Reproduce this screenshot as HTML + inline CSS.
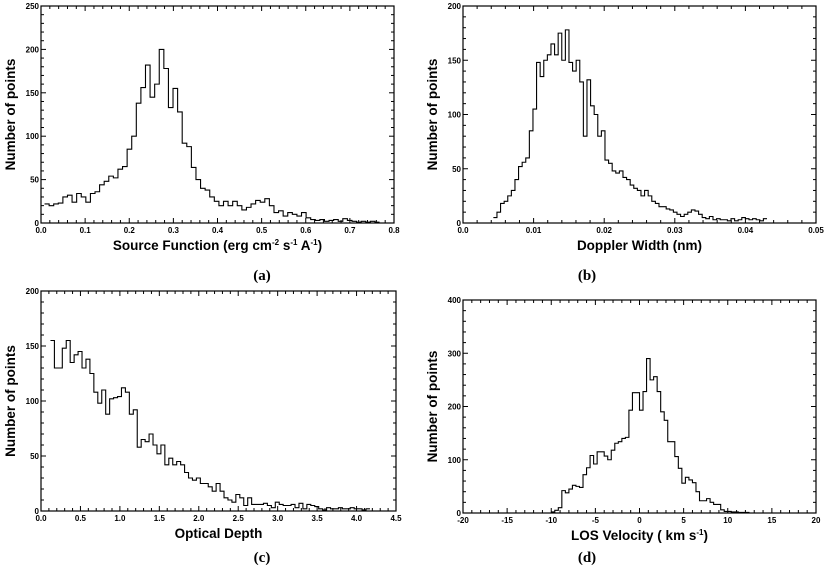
<!DOCTYPE html>
<html><head><meta charset="utf-8"><style>
html,body{margin:0;padding:0;background:#fff;}
svg{display:block;}
.tick{font:bold 8px "Liberation Sans",sans-serif;fill:#000;}
.atitle{font:bold 13.5px "Liberation Sans",sans-serif;fill:#000;}
.plabel{font:bold 15px "Liberation Serif",serif;fill:#000;}
</style></head><body>
<svg id="fig" width="826" height="569" viewBox="0 0 826 569"></svg>
<script>
// Panel (a): Source Function
const aStart = 0.008, aWidth = 0.0104;
const aCounts = [22,20,22,23,30,32,24,34,30,24,34,36,44,48,54,52,62,65,85,100,138,156,182,145,160,200,178,133,155,128,92,88,64,50,40,38,30,25,20,25,20,25,20,15,18,22,26,24,28,20,12,14,8,12,10,8,12,6,4,3,4,2,3,4,2,5,3,2,1,2,1,2,1];
const aXTicks = ["0.0","0.1","0.2","0.3","0.4","0.5","0.6","0.7","0.8"];
const aYTicks = [0,50,100,150,200,250];
// Panel (b): Doppler Width
const bStart = 0.0043, bWidth = 0.00051;
const bCounts = [5,10,18,20,25,30,40,52,56,60,85,105,148,135,150,155,165,155,175,150,178,148,140,150,130,80,132,108,100,80,85,58,55,48,46,48,42,40,35,32,30,25,30,25,20,18,15,15,13,12,10,8,6,8,10,12,11,8,5,4,6,3,4,3,3,2,4,2,3,5,4,3,4,3,2,4];
const bXTicks = ["0.0","0.01","0.02","0.03","0.04","0.05"];
const bYTicks = [0,50,100,150,200];
// Panel (c): Optical Depth
const cStart = 0.12, cWidth = 0.05;
const cCounts = [155,130,130,148,155,135,142,145,130,138,125,108,98,110,88,102,103,104,112,108,88,92,58,65,63,70,60,52,60,42,48,42,45,42,35,30,28,30,25,25,22,18,25,18,12,10,8,15,12,5,12,6,6,6,7,5,3,8,6,5,5,6,3,7,2,6,5,4,2,1,3,2,2,3,2,2,3,2,2,1,2];
const cXTicks = ["0.0","0.5","1.0","1.5","2.0","2.5","3.0","3.5","4.0","4.5"];
const cYTicks = [0,50,100,150,200];
// Panel (d): LOS Velocity
const dStart = -10, dWidth = 0.4;
const dCounts = [2,5,10,42,38,45,52,50,48,72,85,108,92,115,115,107,100,118,131,134,140,142,193,226,226,193,228,290,250,256,228,190,174,134,134,106,84,56,67,62,57,40,23,23,27,20,16,16,6,3,3,2,2,1,1,1,0];
const dXTicks = ["-20","-15","-10","-5","0","5","10","15","20"];
const dYTicks = [0,100,200,300,400];

const NS = "http://www.w3.org/2000/svg";
const svg = document.getElementById('fig');
function mk(tag, attrs, parent){
  const e = document.createElementNS(NS, tag);
  for (const k in attrs) e.setAttribute(k, attrs[k]);
  (parent||svg).appendChild(e);
  return e;
}
function panel(id, box, xmin, xmax, ymax, xTicks, yTicks, xMinor, yMinor, start, width, counts, xtitle, label, labelX, labelY){
  const g = mk('g', {});
  
  
  const L=box[0], R=box[1], T=box[2], B=box[3];
  const sx = v => L + (v - xmin) / (xmax - xmin) * (R - L);
  const sy = v => B - v / ymax * (B - T);
  const frame = mk('rect', {x:L, y:T, width:R-L, height:B-T, fill:'none', stroke:'#000', 'stroke-width':1.2}, g);
  
  
  const nx = xTicks.length - 1;
  for (let i = 0; i <= nx * xMinor; i++) {
    const x = L + i / (nx * xMinor) * (R - L);
    const len = (i % xMinor === 0) ? 5 : 3;
    mk('line', {x1:x, x2:x, y1:B, y2:B-len, stroke:'#000', 'stroke-width':1}, g);
    mk('line', {x1:x, x2:x, y1:T, y2:T+len, stroke:'#000', 'stroke-width':1}, g);
  }
  xTicks.forEach((t, i) => {
    const tx = mk('text', {x:L + i / nx * (R - L), y:B + 10, 'text-anchor':'middle', class:'tick'}, g);
    tx.textContent = t;
    
    
  });
  const ny = yTicks.length - 1;
  for (let i = 0; i <= ny * yMinor; i++) {
    const y = B - i / (ny * yMinor) * (B - T);
    const len = (i % yMinor === 0) ? 5 : 3;
    mk('line', {x1:L, x2:L+len, y1:y, y2:y, stroke:'#000', 'stroke-width':1}, g);
    mk('line', {x1:R, x2:R-len, y1:y, y2:y, stroke:'#000', 'stroke-width':1}, g);
  }
  yTicks.forEach(t => {
    const ty = mk('text', {x:L - 2, y:sy(t) + 3, 'text-anchor':'end', class:'tick'}, g);
    ty.textContent = t;
    
    
  });
  let d = '';
  counts.forEach((c, i) => {
    const x0 = sx(start + i * width), x1 = sx(start + (i + 1) * width), y = sy(c);
    d += (i === 0 ? 'M' + x0 + ',' + y : 'L' + x0 + ',' + y) + 'L' + x1 + ',' + y;
  });
  const p = mk('path', {d:d, fill:'none', stroke:'#000', 'stroke-width':1.1}, g);
  
  
  const xt = mk('text', {x:(L + R) / 2, y:B + 27, 'text-anchor':'middle', class:'atitle'}, g);
  xt.innerHTML = xtitle;
  
  
  const yx = L - 26, yy = (T + B) / 2;
  const yt = mk('text', {x:yx, y:yy, 'text-anchor':'middle', class:'atitle', transform:'rotate(-90 ' + yx + ' ' + yy + ')'}, g);
  yt.textContent = 'Number of points';
  
  
  const pl = mk('text', {x:labelX, y:labelY, 'text-anchor':'middle', class:'plabel'}, g);
  pl.textContent = label;
  
  
}
panel('a', [41,394,6,223], 0, 0.8, 250, aXTicks, aYTicks, 5, 5, aStart, aWidth, aCounts,
  'Source Function (erg cm<tspan dy="-5" font-size="8">-2</tspan><tspan dy="5"> s</tspan><tspan dy="-5" font-size="8">-1</tspan><tspan dy="5"> A</tspan><tspan dy="-5" font-size="8">-1</tspan><tspan dy="5">)</tspan>', '(a)', 262, 280);
panel('b', [463,816,6,223], 0, 0.05, 200, bXTicks, bYTicks, 5, 5, bStart, bWidth, bCounts,
  'Doppler Width (nm)', '(b)', 587, 280);
panel('c', [41,396,291,511], 0, 4.5, 200, cXTicks, cYTicks, 5, 5, cStart, cWidth, cCounts,
  'Optical Depth', '(c)', 262, 562);
panel('d', [463,816,300,513], -20, 20, 400, dXTicks, dYTicks, 5, 5, dStart, dWidth, dCounts,
  'LOS Velocity ( km s<tspan dy="-5" font-size="8">-1</tspan><tspan dy="5">)</tspan>', '(d)', 587, 562);
</script>
</body></html>
